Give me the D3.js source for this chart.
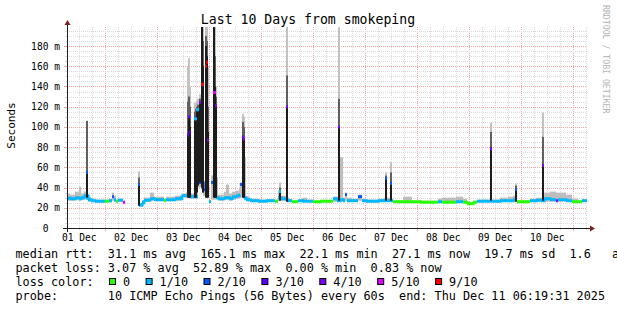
<!DOCTYPE html>
<html>
<head>
<meta charset="utf-8">
<title>Last 10 Days from smokeping</title>
<script src="https://cdn.jsdelivr.net/npm/d3@7"></script>
<style>
    body { margin: 0; background: #ffffff; }
    svg text { font-family: "DejaVu Sans Mono", monospace; white-space: pre; }
</style>
</head>
<body>
<div id="graph"></div>
<script>
// graph window: 10 days ending Thu Dec 11 06:19:31 2025
var startTime = Date.UTC(2025, 11, 1, 6, 19, 31);
var endTime = Date.UTC(2025, 11, 11, 6, 19, 31);

// median rtt (ms) held from each hour mark (hours after startTime) until the next one
var baseHours = [
    0.0, 1.4, 3.7, 5.5, 6.5, 7.8, 9.7, 11.1, 12.9, 17.5, 19.4, 20.8, 21.7, 22.6, 23.5, 25.8, 26.8,
    33.2, 34.6, 35.5, 38.3, 40.2, 44.8, 45.7, 49.8, 52.9, 54.9, 56.8, 60.5, 62.8, 65.5, 66.5, 68.8,
    69.7, 72.5, 73.4, 74.8, 76.2, 78.0, 79.4, 79.8, 81.7, 82.6, 84.5, 88.2, 91.8, 96.0, 97.4, 98.8,
    101.5, 103.8, 106.6, 108.5, 110.8, 113.5, 116.8, 119.5, 122.8, 124.6, 126.0, 127.4, 128.3, 129.2, 131.5, 134.3, 136.2, 138.0, 143.5, 146.3, 149.5, 150.5,
    155.1, 159.2, 162.9, 171.2, 173.1, 179.5, 182.8, 184.6, 187.4, 189.2, 196.2, 199.8, 203.5, 205.9, 207.7, 213.7, 216.5, 218.8,
    220.2, 222.9, 225.7, 226.6, 230.3, 233.1, 236.0, 237.7
];
var baseMedian = [
    29.5, 29, 30, 29, 30, 32, 28, 27, 26.5, 26.5, 27, 31, 28, 26.5, 27.5, 25.5, null,
    22.5, 25, 27.5, 29, 28, 27, 28, 29, 32, 32, 31, 45, 38, 26, 45, 30,
    29, 30, 30, 29, 31, 32, 33, 43, 30, 28, 27, 26.5, 27, 26.5, 30, 29,
    27, 26, 27, 26.5, 26.5, 26, 26.5, 26.5, 29, 27, 28, 27, 33, 27, 27, 31, 27, 26.5, 27, 27, 27, 26,
    26, 26, 25.5, 26, 25.5, 26, 25.5, 24, 25.5, 26.5, 26.5, 27, 27, 28, 26, 27, 27.5, 27,
    29, 28, 27, 28, 27, 26, 26, 27
];
// lost pings out of 10
var baseLoss = [
    1, 1, 1, 1, 1, 1, 1, 1, 1, 0, 1, 2, 1, 0, 1, 5, null,
    1, 1, 1, 1, 1, 0, 1, 1, 1, 1, 1, 2, 2, 1, 2, 1,
    1, 1, 1, 1, 1, 1, 1, 2, 1, 1, 1, 1, 1, 0, 1, 1,
    1, 0, 1, 1, 1, 0, 0, 0, 1, 1, 1, 1, 2, 1, 1, 2, 1, 1, 1, 1, 1, 0,
    0, 0, 0, 1, 0, 1, 0, 0, 0, 1, 1, 1, 1, 1, 0, 1, 1, 1,
    1, 1, 4, 1, 1, 0, 0, 1
];
// smoke: lowest and highest ping (ms)
var baseLow = [
    27, 27, 27.5, 27, 28, 28, 26, 26, 25, 25, 25.5, 27, 26, 25, 26, 25, null,
    22, 23, 26, 27, 26.5, 26, 26.5, 27, 30, 30, 29, 40, 32, 25, 28, 28,
    27, 28, 28, 27, 28, 29, 29, 30, 28, 27, 26, 25.5, 26, 25.5, 27, 27,
    26, 25, 26, 25.5, 25.5, 25, 25.5, 25.5, 26, 26, 26, 26, 27, 26, 26, 27, 26, 25.5, 26, 26, 26, 25,
    25, 25, 25, 25, 25, 25, 25, 23.5, 25, 25.5, 25.5, 26, 26, 26, 25, 25.5, 26, 26,
    26, 26, 26, 26, 26, 25, 25, 26
];
var baseHigh = [
    34, 33, 36, 41, 34, 36, 31, 29, 28, 28, 29, 35, 32, 28, 29, 26, null,
    24, 27, 30, 35, 31, 29, 31, 32, 34, 35, 34, 50, 45, 28, 52, 50,
    33, 36, 43, 34, 36, 37, 40, 45, 70, 31, 29, 28, 28, 28, 37, 32,
    29, 27, 28, 30, 28, 27, 27.5, 27.5, 31, 30, 70, 30, 35, 30, 29, 33, 29, 28, 29, 30, 29, 27,
    31, 27, 27, 29, 30, 31, 29, 26, 27, 28, 28, 30, 31, 32, 27, 29, 30, 30,
    35, 36, 35, 35, 33, 29, 27, 28
];

// latency spikes, one rrd step each
var spikeHours = [8.8, 32.8, 55.4, 55.9, 56.3, 58.6, 59.1, 59.5, 60.0, 60.9, 61.8, 62.3, 63.7, 64.2,
    64.6, 67.4, 67.8, 68.3, 80.8, 81.2, 97.8, 101.1, 125.1, 146.8, 149.1, 195.2, 206.8, 219.2];
var spikeMedian = [55, 43, 92, 110, 95, 108, 108, 117, 117, 124, 142, 142, 160, 164,
    87, 134, 134, 121, 90, 88, 36, 120, 100, 49, 44, 78, 38, 62];
var spikeLoss = [2, 2, 3, 4, 3, 1, 1, 1, 1, 4, 9, 9, 9, 9,
    4, 5, 5, 4, 4, 4, 1, 4, 4, 2, 2, 4, 2, 4];
var spikeLow = [30, 22, 30, 30, 30, 30, 30, 35, 42, 45, 40, 35, 30, 30,
    30, 30, 30, 30, 30, 30, 27, 26, 27, 27, 27, 27, 26, 27];
var spikeDark = [55, 43, 92, 110, 100, 108, 110, 117, 118, 124, 200, 160, 180, 170,
    95, 200, 140, 121, 90, 88, 35, 120, 100, 49, 44, 80, 39.5, 62];
var spikeMid = [106, 50, 125, 130, 120, 115, 118, 120, 122, 128, 200, 185, 190, 185,
    120, 200, 170, 130, 105, 100, 40, 151, 128, 52, 55, 95, 42, 90];
var spikeHigh = [106, 56, 160, 168, 140, 124, 124, 126, 128, 132, 200, 200, 200, 200,
    160, 200, 200, 140, 113, 110, 45, 200, 200, 55, 65, 104, 44, 114];

// y axis
var yTicks = [0, 20, 40, 60, 80, 100, 120, 140, 160, 180];
var yTickLabels = ["0  ", "20 m", "40 m", "60 m", "80 m", "100 m", "120 m", "140 m", "160 m", "180 m"];

// loss colours
var lossLevels = [0, 1, 2, 3, 4, 5, 9];
var lossLabels = ["0", "1/10", "2/10", "3/10", "4/10", "5/10", "9/10"];
var lossColors = ["#26ff00", "#00b8ff", "#0059ff", "#5e00ff", "#7e00ff", "#dd00ff", "#ff0000"];

// legend lines
var legendLines = [
    "median rtt:  31.1 ms avg  165.1 ms max  22.1 ms min  27.1 ms now  19.7 ms sd  1.6   am/as",
    "packet loss: 3.07 % avg  52.89 % max  0.00 % min  0.83 % now",
    "loss color:",
    "probe:       10 ICMP Echo Pings (56 Bytes) every 60s  end: Thu Dec 11 06:19:31 2025"
];

var X0 = 67, X1 = 587, Y0 = 228, Y1 = 27;

function at(h) {
    return new Date(startTime + h * 3600000);
}

function lossColor(n) {
    var c = lossColors[0];
    lossLevels.forEach(function (l, i) {
        if (n >= l) c = lossColors[i];
    });
    return c;
}

var x = d3.scaleUtc().domain([startTime, endTime]).range([X0, X1]);
var y = d3.scaleLinear().domain([0, 180]).range([Y0, 46]);

var svg = d3.select("#graph").append("svg")
    .attr("width", 617)
    .attr("height", 310)
    .style("display", "block");

svg.append("rect").attr("width", 617).attr("height", 310).attr("fill", "#ffffff");

svg.append("clipPath").attr("id", "plot")
    .append("rect")
    .attr("x", X0).attr("y", Y1)
    .attr("width", X1 - X0).attr("height", Y0 - Y1);

// grid
var minorColor = "#d9d9d9", majorColor = "#f2a4a4";
var grid = svg.append("g").attr("shape-rendering", "crispEdges");

var gridTimes = d3.utcHour.every(6).range(new Date(startTime), new Date(endTime + 1));
gridTimes.forEach(function (t) {
    var major = t.getUTCHours() === 0;
    var gx = Math.round(x(t)) + 0.5;
    grid.append("line")
        .attr("x1", gx).attr("x2", gx)
        .attr("y1", Y1).attr("y2", Y0)
        .attr("stroke", major ? majorColor : minorColor)
        .attr("stroke-dasharray", "1,1");
    grid.append("line")
        .attr("x1", gx).attr("x2", gx)
        .attr("y1", Y0).attr("y2", Y0 + (major ? 3 : 2))
        .attr("stroke", major ? majorColor : minorColor);
});

d3.range(5, 200, 5).forEach(function (v) {
    var gy = Math.round(y(v)) + 0.5;
    if (gy < Y1) return;
    var major = v % 20 === 0;
    grid.append("line")
        .attr("x1", X0).attr("x2", X1)
        .attr("y1", gy).attr("y2", gy)
        .attr("stroke", major ? majorColor : minorColor)
        .attr("stroke-dasharray", "1,1");
    grid.append("line")
        .attr("x1", X0 - (major ? 3 : 2)).attr("x2", X0)
        .attr("y1", gy).attr("y2", gy)
        .attr("stroke", major ? majorColor : minorColor);
});

var plot = svg.append("g").attr("clip-path", "url(#plot)");

// smoke around the median line
baseHours.forEach(function (h, i) {
    if (baseMedian[i] === null) return;
    var next = i + 1 < baseHours.length ? baseHours[i + 1] : 240;
    plot.append("rect")
        .attr("x", x(at(h)))
        .attr("width", x(at(next)) - x(at(h)))
        .attr("y", y(baseHigh[i]))
        .attr("height", y(baseLow[i]) - y(baseHigh[i]))
        .attr("fill", "#bdbdbd");
});

// median line, coloured by loss
baseHours.forEach(function (h, i) {
    if (baseMedian[i] === null) return;
    var last = i + 1 >= baseHours.length;
    var next = last ? 240 : baseHours[i + 1];
    var col = lossColor(baseLoss[i]);
    var d = "M" + x(at(h)) + "," + y(baseMedian[i]) + "H" + x(at(next));
    if (!last && baseMedian[i + 1] !== null && lossColor(baseLoss[i + 1]) === col) {
        d += "V" + y(baseMedian[i + 1]);
    }
    plot.append("path")
        .attr("d", d)
        .attr("fill", "none")
        .attr("stroke", col)
        .attr("stroke-width", 3);
});

// spikes: light smoke, mid smoke, then the dark core
var layers = [
    {from: spikeMid, to: spikeHigh, fill: "#c2c2c2"},
    {from: spikeDark, to: spikeMid, fill: "#606060"},
    {from: spikeLow, to: spikeDark, fill: "#1c1c1c"}
];
layers.forEach(function (l) {
    spikeHours.forEach(function (h, i) {
        if (l.to[i] <= l.from[i]) return;
        plot.append("rect")
            .attr("x", Math.round(x(at(h))))
            .attr("width", 2)
            .attr("y", y(l.to[i]))
            .attr("height", y(l.from[i]) - y(l.to[i]))
            .attr("fill", l.fill);
    });
});
spikeHours.forEach(function (h, i) {
    plot.append("rect")
        .attr("x", Math.round(x(at(h))))
        .attr("width", 2)
        .attr("y", y(spikeMedian[i]) - 1.5)
        .attr("height", 3)
        .attr("fill", lossColor(spikeLoss[i]));
});

// axes with arrows
var axisColor = "#1f1f1f", arrowColor = "#801f1f";
svg.append("line")
    .attr("x1", X0 - 4).attr("x2", X1 + 4)
    .attr("y1", Y0 + 0.5).attr("y2", Y0 + 0.5)
    .attr("stroke", axisColor);
svg.append("line")
    .attr("x1", X0 + 0.5).attr("x2", X0 + 0.5)
    .attr("y1", Y0 + 4).attr("y2", Y1 - 3)
    .attr("stroke", axisColor);
svg.append("path")
    .attr("d", "M" + (X1 + 3) + "," + (Y0 - 2.5) + "L" + (X1 + 8) + "," + (Y0 + 0.5) + "L" + (X1 + 3) + "," + (Y0 + 3.5) + "Z")
    .attr("fill", arrowColor);
svg.append("path")
    .attr("d", "M" + (X0 - 2.5) + "," + (Y1 - 2) + "L" + (X0 + 0.5) + "," + (Y1 - 7) + "L" + (X0 + 3.5) + "," + (Y1 - 2) + "Z")
    .attr("fill", arrowColor);

// y tick labels
yTicks.forEach(function (v, i) {
    svg.append("text")
        .attr("x", 60)
        .attr("y", y(v) + 3.5)
        .attr("text-anchor", "end")
        .style("font-size", "9.6px")
        .attr("fill", "#000")
        .text(yTickLabels[i]);
});

// x tick labels at noon of each day
var fmt = d3.utcFormat("%d %b");
d3.utcDay.range(new Date(startTime - 86400000), new Date(endTime)).forEach(function (d) {
    var noon = d3.utcHour.offset(d, 12);
    if (noon < startTime || noon > endTime) return;
    svg.append("text")
        .attr("x", x(noon))
        .attr("y", 241)
        .attr("text-anchor", "middle")
        .style("font-size", "9.6px")
        .attr("fill", "#000")
        .text(fmt(noon));
});

// title and labels
svg.append("text")
    .attr("x", 308)
    .attr("y", 24)
    .attr("text-anchor", "middle")
    .style("font-size", "13.2px")
    .text("Last 10 Days from smokeping");

svg.append("text")
    .attr("transform", "translate(15,125.5) rotate(-90)")
    .attr("text-anchor", "middle")
    .style("font-size", "11px")
    .text("Seconds");

svg.append("text")
    .attr("transform", "translate(603,5) rotate(90)")
    .style("font-size", "8.2px")
    .attr("fill", "#b4b4b4")
    .text("RRDTOOL / TOBI OETIKER");

// legend
var charW = 7.1;
legendLines.forEach(function (line, i) {
    svg.append("text")
        .attr("x", 15.5)
        .attr("y", 258 + i * 13.9)
        .style("font-size", "11.8px")
        .text(line);
});

var cursor = 109;
lossLabels.forEach(function (lab, i) {
    svg.append("rect")
        .attr("x", cursor + 0.5)
        .attr("y", 278.5)
        .attr("width", 6)
        .attr("height", 6)
        .attr("fill", lossColors[i])
        .attr("stroke", "#000");
    svg.append("text")
        .attr("x", cursor + 14)
        .attr("y", 258 + 2 * 13.9)
        .style("font-size", "11.8px")
        .text(lab);
    cursor += 14 + lab.length * charW + 15.5;
});
</script>
</body>
</html>
